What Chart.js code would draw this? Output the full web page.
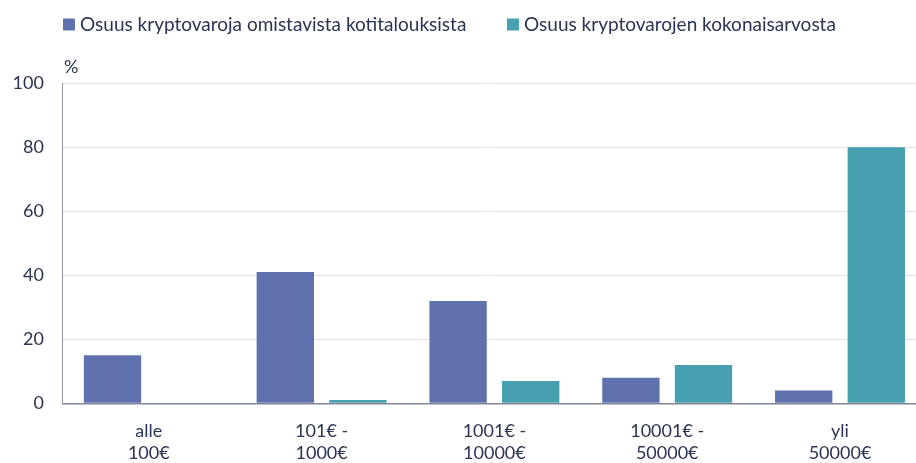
<!DOCTYPE html>
<html>
<head>
<meta charset="utf-8">
<script src="https://cdn.jsdelivr.net/npm/chart.js@4/dist/chart.umd.min.js"></script>
<style>
html,body{margin:0;padding:0;background:#fff;overflow:hidden;width:916px;height:463px;}
#wrap{width:930px;height:463px;}
</style>
</head>
<body>
<div id="wrap"><canvas id="c" width="930" height="463"></canvas></div>
<script>
const categories = [["alle","100€"],["101€ -","1000€"],["1001€ -","10000€"],["10001€ -","50000€"],["yli","50000€"]];
const seriesNames = ["Osuus kryptovaroja omistavista kotitalouksista","Osuus kryptovarojen kokonaisarvosta"];
const householdShare = [15, 41, 32, 8, 4];
const valueShare = [0, 1, 7, 12, 80];
const yTicks = [0, 20, 40, 60, 80, 100];
const unitLabel = "%";

const navy = '#2b3452';
const colors = ['#5f72ad', '#47a0b0'];

const legendPlugin = {
  id: 'customLegend',
  afterDraw(chart) {
    const ctx = chart.ctx;
    ctx.save();
    ctx.font = '19px Lato';
    ctx.textBaseline = 'middle';
    const xs = [63, 507];
    chart.data.datasets.forEach((ds, i) => {
      const x = xs[i];
      ctx.fillStyle = ds.backgroundColor;
      ctx.fillRect(x, 18.5, 12, 12);
      ctx.fillStyle = navy;
      ctx.fillText(ds.label, x + 17, 24.5);
    });
    ctx.font = '18px Lato';
    ctx.fillText(unitLabel, chart.chartArea.left + 1.5, 67);
    ctx.restore();
  }
};

new Chart(document.getElementById('c'), {
  type: 'bar',
  data: {
    labels: categories,
    datasets: [
      { label: seriesNames[0], data: householdShare, backgroundColor: colors[0] },
      { label: seriesNames[1], data: valueShare, backgroundColor: colors[1] }
    ]
  },
  options: {
    responsive: false,
    animation: false,
    devicePixelRatio: 1,
    layout: { padding: { top: 83.3, right: 3.6, bottom: 0, left: 0 } },
    datasets: { bar: { barPercentage: 0.79, categoryPercentage: 0.84 } },
    plugins: { legend: { display: false }, tooltip: { enabled: false } },
    scales: {
      x: {
        grid: { display: false, drawTicks: false },
        border: { color: '#80859a', width: 1.5 },
        ticks: { color: navy, font: { family: 'Lato', size: 18, lineHeight: 1.27 }, padding: 16, maxRotation: 0 },
        afterFit(s) { s.height = 59.7; }
      },
      y: {
        min: 0, max: 100,
        afterBuildTicks(s) { s.ticks = yTicks.map(v => ({ value: v })); },
        grid: { color: '#dfe0ea', lineWidth: 1, drawTicks: false },
        border: { color: '#8f93ab', width: 1 },
        ticks: { color: navy, font: { family: 'Lato', size: 18 }, padding: 18.5 },
        afterFit(s) { s.width = 62.4; }
      }
    }
  },
  plugins: [legendPlugin]
});
</script>
</body>
</html>
